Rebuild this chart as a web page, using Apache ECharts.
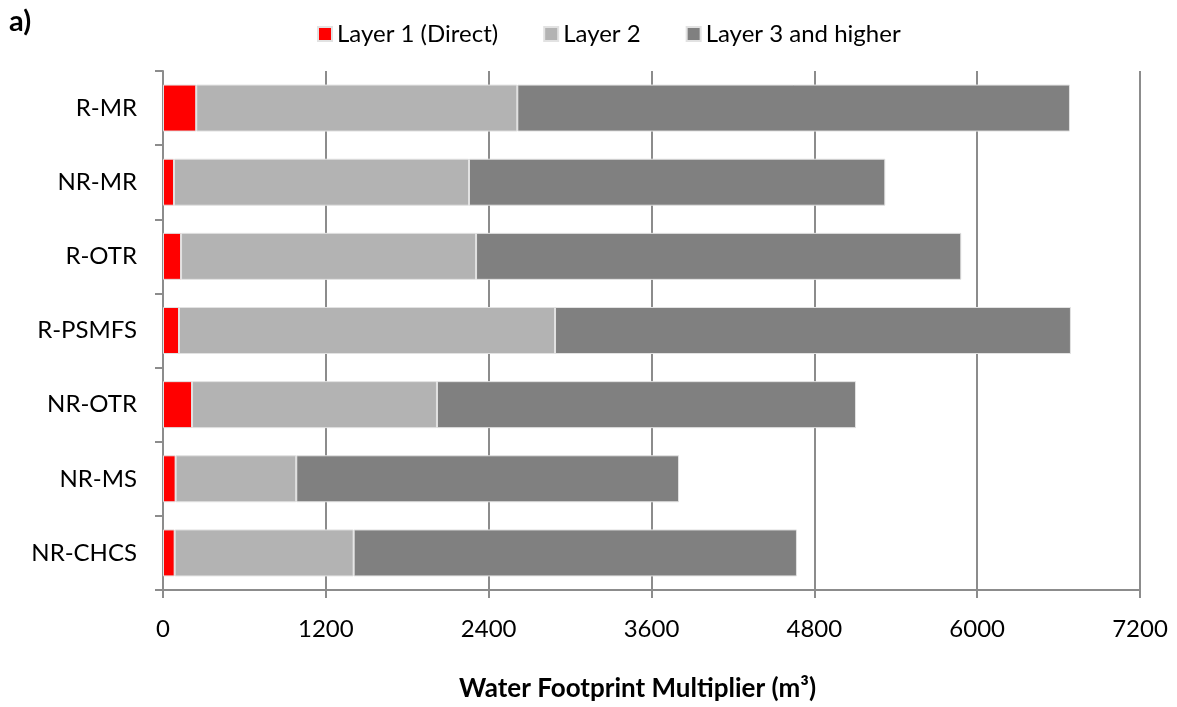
<!DOCTYPE html>
<html>
<head>
<meta charset="utf-8">
<script src="https://cdn.jsdelivr.net/npm/echarts@6/dist/echarts.min.js"></script>
<style>
	html, body { margin: 0; padding: 0; background: #fff; }
	#chart { width: 1177px; height: 707px; }
</style>
</head>
<body>
<div id="chart"></div>
<script>
const categories = ['R-MR', 'NR-MR', 'R-OTR', 'R-PSMFS', 'NR-OTR', 'NR-MS', 'NR-CHCS'];
const layer1 = [245, 81, 133, 118, 214, 93, 86];
const layer2 = [2366, 2174, 2174, 2771, 1805, 889, 1319];
const layer3 = [4073, 3068, 3576, 3802, 3088, 2821, 3267];
const seriesNames = ['Layer 1 (Direct)', 'Layer 2', 'Layer 3 and higher'];

const font = 'Lato, "Open Sans", sans-serif';
const axisGray = '#8c8c8c';

const chart = echarts.init(document.getElementById('chart'));

function barSeries(name, data, color) {
	return {
		type: 'bar',
		name: name,
		stack: 'total',
		data: data,
		barWidth: 47,
		itemStyle: {
			color: color,
			borderColor: '#e2e2e2',
			borderWidth: 1
		},
		emphasis: { disabled: true }
	};
}

chart.setOption({
	animation: false,
	textStyle: { fontFamily: font },
	graphic: [{
		type: 'text',
		left: 9,
		top: 7,
		style: {
			text: 'a)',
			font: 'bold 29px ' + font,
			fill: '#000'
		}
	}],
	legend: {
		top: 17,
		left: 312,
		icon: 'rect',
		itemWidth: 14,
		itemHeight: 14,
		itemGap: 45,
		textStyle: { fontSize: 24, color: '#000', fontFamily: font },
		data: seriesNames
	},
	grid: {
		left: 163,
		right: 37,
		top: 71,
		bottom: 113,
		containLabel: false
	},
	xAxis: {
		type: 'value',
		min: 0,
		max: 7200,
		interval: 1200,
		name: 'Water Footprint Multiplier (m³)',
		nameLocation: 'middle',
		nameGap: 86,
		nameTextStyle: {
			fontSize: 26,
			fontWeight: 'bold',
			color: '#000',
			fontFamily: font,
			padding: [0, 28, 0, 0]
		},
		axisLine: { show: true, lineStyle: { color: axisGray, width: 2 } },
		axisTick: { show: true, length: 8, lineStyle: { color: axisGray, width: 2 } },
		axisLabel: {
			fontSize: 24,
			color: '#000',
			margin: 27,
			fontFamily: font,
			formatter: v => String(v)
		},
		splitLine: { show: true, lineStyle: { color: axisGray, width: 2 } }
	},
	yAxis: {
		type: 'category',
		data: categories,
		inverse: true,
		axisLine: { show: true, lineStyle: { color: axisGray, width: 2 } },
		axisTick: { show: true, length: 8, lineStyle: { color: axisGray, width: 2 } },
		axisLabel: { fontSize: 24, color: '#000', margin: 26, fontFamily: font },
		splitLine: { show: false }
	},
	series: [
		barSeries(seriesNames[0], layer1, '#ff0000'),
		barSeries(seriesNames[1], layer2, '#b3b3b3'),
		barSeries(seriesNames[2], layer3, '#808080')
	]
});
</script>
</body>
</html>
